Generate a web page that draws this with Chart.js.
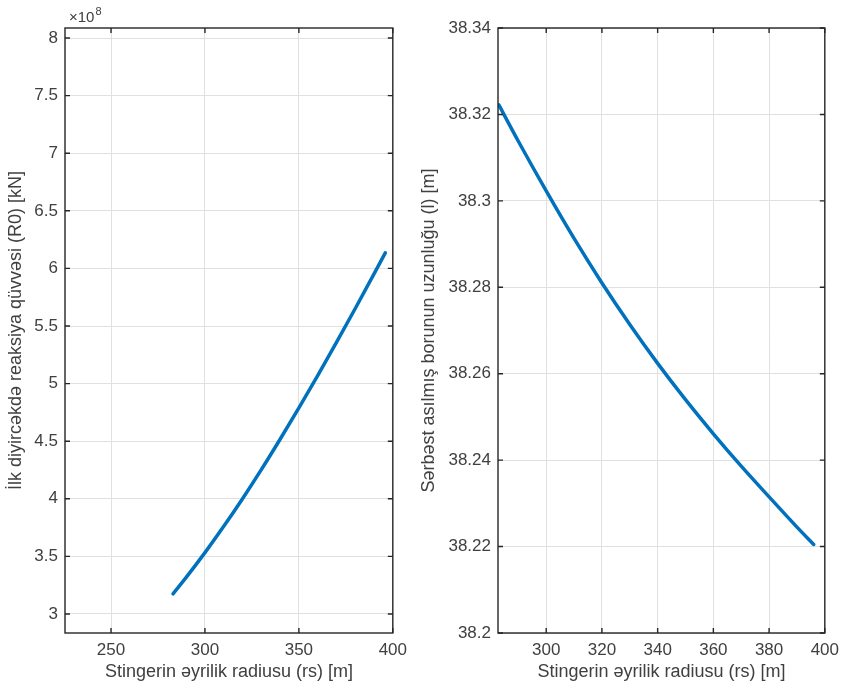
<!DOCTYPE html>
<html><head><meta charset="utf-8">
<script src="https://cdn.jsdelivr.net/npm/chart.js@4/dist/chart.umd.min.js"></script>
<style>
html,body{margin:0;padding:0;background:#fff;}
#wrap{position:relative;width:845px;height:684px;overflow:hidden;background:#fff;}
#c1{position:absolute;left:0;top:0;}
#c2{position:absolute;left:412px;top:0;}
</style></head><body>
<div id="wrap"><canvas id="c1" width="414" height="684"></canvas><canvas id="c2" width="434" height="684"></canvas></div>
<script>
// ---- data ----
const radius     = [283, 290, 300, 310, 320, 330, 340, 350, 360, 370, 380, 390, 396];
const reaction   = [3.175e8, 3.318e8, 3.533e8, 3.761e8, 4.001e8, 4.253e8, 4.517e8, 4.789e8, 5.069e8, 5.357e8, 5.652e8, 5.952e8, 6.135e8];
const pipeLength = [38.3222, 38.3138, 38.3023, 38.2913, 38.2810, 38.2714, 38.2624, 38.2540, 38.2461, 38.2386, 38.2315, 38.2245, 38.2205];

const leftXTicks  = [250, 300, 350, 400];
const leftYTicks  = [3, 3.5, 4, 4.5, 5, 5.5, 6, 6.5, 7, 7.5, 8];   // x 10^8
const leftYLabels = ['3', '3.5', '4', '4.5', '5', '5.5', '6', '6.5', '7', '7.5', '8'];
const rightXTicks = [300, 320, 340, 360, 380, 400];
const rightYTicks = [38.2, 38.22, 38.24, 38.26, 38.28, 38.3, 38.32, 38.34];
const rightYLabels = ['38.2', '38.22', '38.24', '38.26', '38.28', '38.3', '38.32', '38.34'];

const xTitle = 'Stingerin əyrilik radiusu (rs) [m]';
const leftYTitle = 'İlk diyircəkdə reaksiya qüvvəsi (R0) [kN]';
const rightYTitle = 'Sərbəst asılmış borunun uzunluğu (l) [m]';
const EXP = 1e8;

const TXT = '#404040';
const AX = '#262626';
const GRID = '#e0e0e0';
const LINE = '#0072BD';
const FONT = 'Liberation Sans, Arial, sans-serif';

const boxPlugin = {
  id: 'box',
  afterDatasetsDraw(chart, args, opts) {
    const {ctx, chartArea: a, scales} = chart;
    ctx.save();
    ctx.strokeStyle = AX;
    ctx.lineWidth = 1.4;
    const tl = 5;
    ctx.beginPath();
    scales.x.ticks.forEach(t => {
      const px = scales.x.getPixelForValue(t.value);
      ctx.moveTo(px, a.bottom); ctx.lineTo(px, a.bottom - tl);
      ctx.moveTo(px, a.top); ctx.lineTo(px, a.top + tl);
    });
    scales.y.ticks.forEach(t => {
      const py = scales.y.getPixelForValue(t.value);
      ctx.moveTo(a.left, py); ctx.lineTo(a.left + tl, py);
      ctx.moveTo(a.right, py); ctx.lineTo(a.right - tl, py);
    });
    ctx.stroke();
    ctx.strokeRect(a.left, a.top, a.right - a.left, a.bottom - a.top);
    if (opts.exponent) {
      ctx.fillStyle = TXT;
      ctx.textBaseline = 'alphabetic';
      ctx.textAlign = 'left';
      ctx.font = '15px ' + FONT;
      ctx.fillText('×10', a.left + 4, a.top - 6);
      const w = ctx.measureText('×10').width;
      ctx.font = '11px ' + FONT;
      ctx.fillText('8', a.left + 5 + w, a.top - 13);
    }
    ctx.restore();
  }
};

function makeChart(id, yVals, xMin, xMax, yMin, yMax, xTicks, yTicks, yLabels, yTitle, yWidth, padRight, titlePad, exponent) {
  const pts = radius.map((x, i) => ({x: x, y: yVals[i]}));
  return new Chart(document.getElementById(id), {
    type: 'line',
    data: {datasets: [{
      data: pts,
      borderColor: LINE,
      borderWidth: 3.5,
      pointRadius: 0,
      cubicInterpolationMode: 'monotone',
      borderCapStyle: 'round',
      fill: false
    }]},
    options: {
      responsive: false,
      animation: false,
      devicePixelRatio: 1,
      layout: {padding: {left: 0, top: 28, right: padRight, bottom: 0}},
      plugins: {legend: {display: false}, tooltip: {enabled: false}, box: {exponent: exponent}},
      scales: {
        x: {
          type: 'linear', min: xMin, max: xMax,
          afterBuildTicks(s) { s.ticks = xTicks.map(v => ({value: v})); },
          afterFit(s) { s.height = 51; },
          grid: {color: GRID, lineWidth: 1, drawTicks: false},
          border: {display: false},
          ticks: {color: TXT, font: {family: FONT, size: 17}, padding: 7, maxRotation: 0, autoSkip: false,
                  callback: (v) => String(v)},
          title: {display: true, text: xTitle, color: TXT, font: {family: FONT, size: 18}, padding: {top: 0, bottom: 1}}
        },
        y: {
          type: 'linear', min: yMin, max: yMax,
          afterBuildTicks(s) { s.ticks = yTicks.map(v => ({value: v * (exponent ? EXP : 1)})); },
          afterFit(s) { s.width = yWidth; },
          grid: {color: GRID, lineWidth: 1, drawTicks: false},
          border: {display: false},
          ticks: {color: TXT, font: {family: FONT, size: 17}, padding: 7, autoSkip: false,
                  callback: (v, i) => yLabels[i]},
          title: {display: true, text: yTitle, color: TXT, font: {family: FONT, size: 18}, padding: {top: titlePad, bottom: 0}}
        }
      }
    },
    plugins: [boxPlugin]
  });
}

makeChart('c1', reaction, 225.5, 400, 2.835e8, 8.087e8, leftXTicks, leftYTicks, leftYLabels, leftYTitle, 65, 17, 5, true);
makeChart('c2', pipeLength, 282.7, 400, 38.2, 38.34, rightXTicks, rightYTicks, rightYLabels, rightYTitle, 86, 18, 6, false);
</script>
</body></html>
